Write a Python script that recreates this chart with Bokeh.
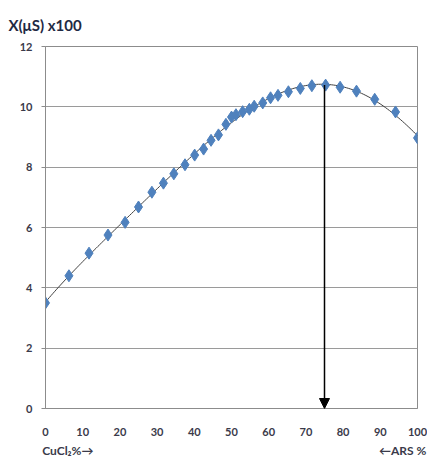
import numpy as np
from bokeh.plotting import figure
from bokeh.models import Range1d, LinearAxis, FixedTicker, Arrow, NormalHead, Title
from bokeh.embed import file_html
from bokeh.resources import INLINE

# data (CuCl2 % vs conductance x100)
cucl2_pct = [0, 6.3, 11.7, 16.8, 21.4, 25.0, 28.6, 31.7, 34.5, 37.5, 40.1, 42.5,
             44.5, 46.5, 48.5, 50.0, 51.2, 53.0, 54.8, 56.1, 58.4, 60.5, 62.5,
             65.3, 68.5, 71.6, 75.3, 79.2, 83.6, 88.5, 94.1, 100]
conductance = [3.50, 4.40, 5.15, 5.75, 6.17, 6.68, 7.17, 7.47, 7.78, 8.08, 8.40, 8.60,
               8.89, 9.07, 9.42, 9.66, 9.74, 9.84, 9.92, 10.02, 10.13, 10.30, 10.38,
               10.50, 10.61, 10.70, 10.72, 10.65, 10.52, 10.25, 9.83, 8.97]
x_ticks = [0, 10, 20, 30, 40, 50, 60, 70, 80, 90, 100]
y_ticks = [0, 2, 4, 6, 8, 10, 12]
arrow_x = 75
arrow_top = 10.72
y_title = "Χ(μS) x100"
left_note = "CuCl₂%→"
right_note = "←ARS %"

FONT = "Lato"
TXT = "#3a3a4a"

p = figure(width=427, height=460, output_backend="svg", toolbar_location=None,
           x_range=Range1d(0, 100), y_range=Range1d(0, 12),
           min_border_left=45, min_border_right=10, min_border_top=46, min_border_bottom=52,
           x_axis_type=None)

p.outline_line_color = "#8c8c8c"
p.outline_line_width = 1
p.background_fill_color = "white"
p.border_fill_color = "white"

# y axis
ya = p.yaxis[0]
ya.ticker = FixedTicker(ticks=y_ticks)
ya.axis_line_color = "#8c8c8c"
ya.major_tick_line_color = "#8c8c8c"
ya.major_tick_out = 4
ya.major_tick_in = 0
ya.minor_tick_line_color = None
ya.major_label_standoff = 9
ya.major_label_text_font = FONT
ya.major_label_text_font_size = "11px"
ya.major_label_text_font_style = "bold"
ya.major_label_text_color = TXT

# x axis
xa = LinearAxis(ticker=FixedTicker(ticks=x_ticks))
xa.axis_line_color = "#8c8c8c"
xa.major_tick_line_color = None
xa.major_tick_out = 0
xa.major_tick_in = 0
xa.minor_tick_line_color = None
xa.major_label_standoff = 19
xa.major_label_text_font = FONT
xa.major_label_text_font_size = "11px"
xa.major_label_text_font_style = "bold"
xa.major_label_text_color = TXT
p.add_layout(xa, "below")

# notes below axis
na = LinearAxis(ticker=FixedTicker(ticks=[6, 96]),
                major_label_overrides={6: left_note, 96: right_note})
na.axis_line_color = None
na.major_tick_line_color = None
na.major_tick_out = 0
na.major_tick_in = 0
na.minor_tick_line_color = None
na.major_label_standoff = 4
na.major_label_text_font = FONT
na.major_label_text_font_size = "12px"
na.major_label_text_font_style = "bold"
na.major_label_text_color = TXT
p.add_layout(na, "below")

p.xgrid.visible = False
p.ygrid.ticker = FixedTicker(ticks=y_ticks)
p.ygrid.grid_line_color = "#9a9a9a"
p.ygrid.grid_line_width = 1

# trend line (polynomial fit of the data)
coef = np.polyfit(cucl2_pct, conductance, 5)
tx = np.linspace(0, 100, 200)
p.line(tx, np.polyval(coef, tx), line_color="#404040", line_width=1)

p.scatter(cucl2_pct, conductance, marker="diamond", size=12,
          fill_color="#4f81bd", line_color="#4f81bd")

p.add_layout(Arrow(x_start=arrow_x, y_start=arrow_top, x_end=arrow_x, y_end=0,
                   line_color="black", line_width=1.5,
                   end=NormalHead(size=10, fill_color="black", line_color="black")))

t = Title(text=y_title, align="left", offset=-37, standoff=25, text_font=FONT,
          text_font_size="15px", text_font_style="bold", text_color="#1f2a44")
p.add_layout(t, "above")

open("out.html", "w").write(file_html(p, INLINE))
